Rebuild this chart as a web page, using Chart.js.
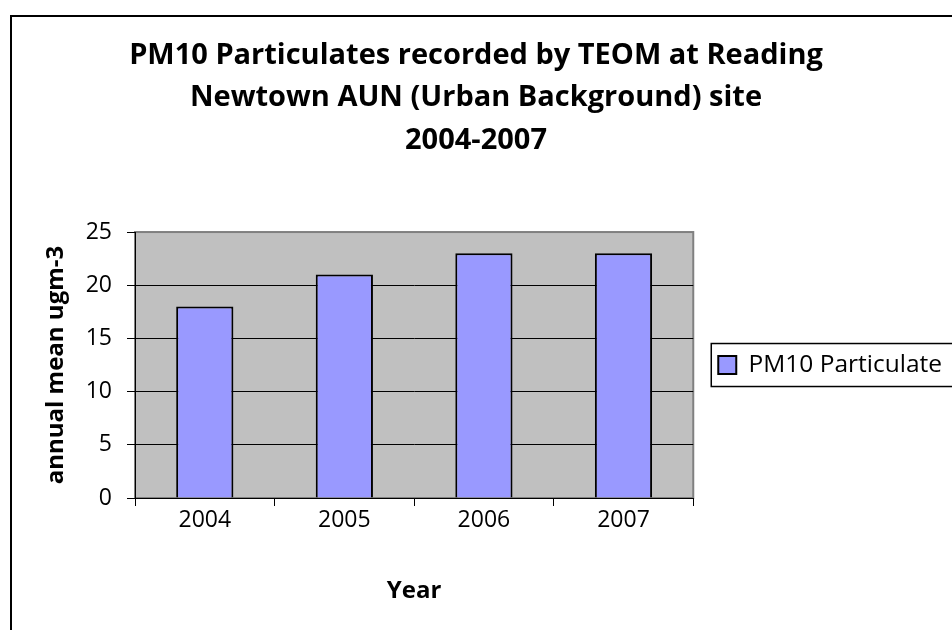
<!DOCTYPE html>
<html>
<head>
<meta charset="utf-8">
<script src="https://cdn.jsdelivr.net/npm/chart.js@4/dist/chart.umd.min.js"></script>
<style>
  html, body { margin: 0; padding: 0; background: #fff; overflow: hidden; }
  #wrap { width: 952px; height: 630px; }
</style>
</head>
<body>
<div id="wrap"><canvas id="c" width="952" height="630"></canvas></div>
<script>
const categories = ['2004', '2005', '2006', '2007'];
const seriesLabel = 'PM10 Particulate';
const pm10Values = [18, 21, 23, 23];
const yTickValues = [0, 5, 10, 15, 20, 25];
const titleLines = ['PM10 Particulates recorded by TEOM at Reading', 'Newtown AUN (Urban Background) site', '2004-2007'];
const yAxisTitle = 'annual mean ugm-3';
const xAxisTitle = 'Year';

Chart.defaults.font.family = "'Open Sans', 'DejaVu Sans', sans-serif";
Chart.defaults.color = '#000';

const PLOT_LEFT = 135, PLOT_RIGHT = 691, CANVAS_W = 952;

const framePlugin = {
  id: 'frame',
  beforeDraw(chart) {
    const { ctx, chartArea: a } = chart;
    ctx.save();
    ctx.fillStyle = '#fff';
    ctx.fillRect(0, 0, chart.width, chart.height);
    // outer chart border (cropped at right and bottom)
    ctx.strokeStyle = '#000';
    ctx.lineWidth = 2;
    ctx.beginPath();
    ctx.moveTo(11, chart.height + 10);
    ctx.lineTo(11, 16);
    ctx.lineTo(chart.width + 10, 16);
    ctx.stroke();
    // plot area
    ctx.fillStyle = '#C0C0C0';
    ctx.fillRect(a.left, a.top, a.right - a.left, a.bottom - a.top);
    ctx.strokeStyle = '#808080';
    ctx.lineWidth = 2;
    ctx.strokeRect(a.left, a.top, a.right - a.left, a.bottom - a.top);
    ctx.restore();
  },
  afterDraw(chart) {
    const lg = chart.legend;
    if (!lg || !lg.legendHitBoxes || !lg.legendHitBoxes.length) return;
    const hb = lg.legendHitBoxes[0];
    const cy = hb.top + hb.height / 2;
    const { ctx } = chart;
    ctx.save();
    ctx.strokeStyle = '#000';
    ctx.lineWidth = 1.5;
    ctx.strokeRect(hb.left - 7, cy - 21.5, 400, 43);
    ctx.restore();
  }
};

new Chart(document.getElementById('c'), {
  type: 'bar',
  data: {
    labels: categories,
    datasets: [{
      label: seriesLabel,
      data: pm10Values,
      backgroundColor: '#9999FF',
      borderColor: '#000',
      borderWidth: 2,
      categoryPercentage: 1,
      barPercentage: 0.41
    }]
  },
  options: {
    responsive: false,
    animation: false,
    devicePixelRatio: 1,
    layout: { padding: 0 },
    plugins: {
      tooltip: { enabled: false },
      title: {
        display: true,
        text: titleLines,
        color: '#000',
        font: { size: 29, weight: 'bold', lineHeight: 1.466 },
        padding: { top: 34, bottom: 70.5 }
      },
      legend: {
        position: 'right',
        fullSize: false,
        align: 'center',
        maxWidth: CANVAS_W - PLOT_RIGHT,
        labels: {
          color: '#000',
          font: { size: 24.5 },
          boxWidth: 18,
          boxHeight: 18,
          padding: 25
        }
      }
    },
    scales: {
      x: {
        grid: {
          offset: true,
          drawOnChartArea: false,
          drawTicks: true,
          tickLength: 8,
          color: '#000',
          tickColor: '#000'
        },
        border: { color: '#000', width: 1 },
        ticks: { color: '#000', font: { size: 23 }, padding: 1 },
        title: {
          display: true,
          text: xAxisTitle,
          color: '#000',
          font: { size: 24, weight: 'bold' },
          padding: { top: 0, bottom: 24 }
        },
        afterFit(s) { s.height = 132; }
      },
      y: {
        min: 0,
        max: 25,
        afterBuildTicks(s) { s.ticks = yTickValues.map(v => ({ value: v })); },
        ticks: { color: '#000', font: { size: 23 }, padding: 15 },
        grid: {
          color: c => (c.tick && c.tick.value === 25) ? '#808080' : '#000',
          tickColor: '#000',
          tickLength: 8,
          lineWidth: 1
        },
        border: { color: '#000', width: 1 },
        title: {
          display: true,
          text: yAxisTitle,
          color: '#000',
          font: { size: 24, weight: 'bold' },
          padding: { top: 42, bottom: 0 }
        },
        afterFit(s) { s.width = PLOT_LEFT; }
      }
    }
  },
  plugins: [framePlugin]
});
</script>
</body>
</html>
